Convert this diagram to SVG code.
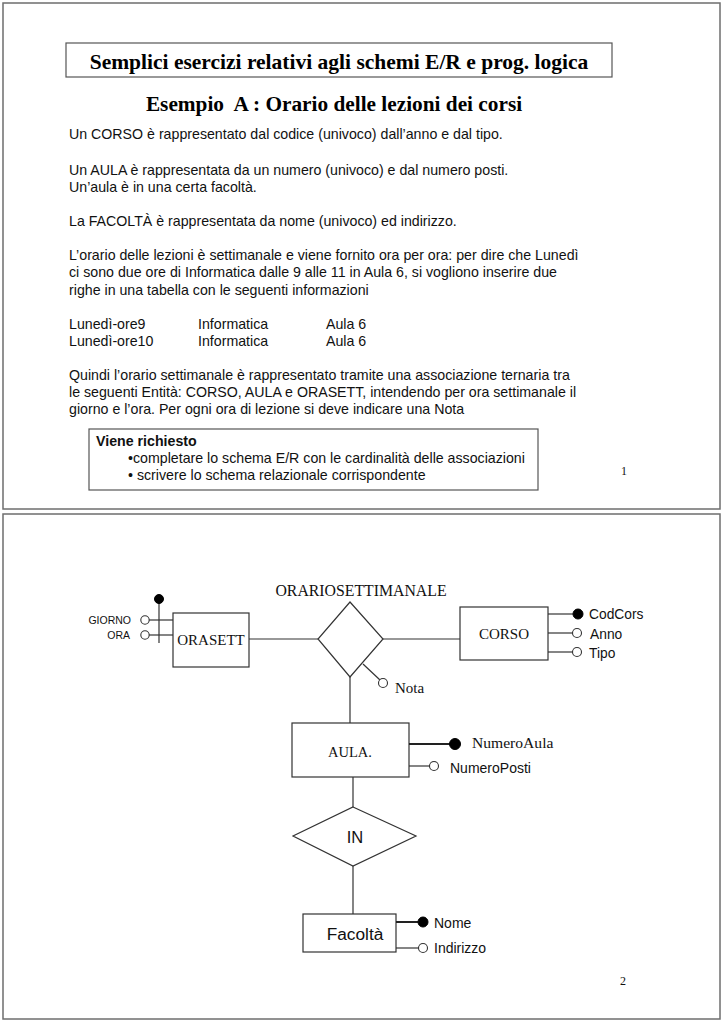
<svg xmlns="http://www.w3.org/2000/svg" width="724" height="1024" viewBox="0 0 724 1024">
<style>
.page{fill:#fff;stroke:#6e6e6e;stroke-width:1.5}
.box{fill:#fff;stroke:#333;stroke-width:1.2}
.ln{stroke:#333;stroke-width:1.2;fill:none}
.thk{stroke:#222;stroke-width:2;fill:none}
.open{fill:#fff;stroke:#333;stroke-width:1.1}
.key{fill:#000;stroke:#000;stroke-width:1}
.tb{font-family:"Liberation Serif",serif;font-weight:bold;fill:#000}
.ts{font-family:"Liberation Serif",serif;fill:#111}
.ta{font-family:"Liberation Sans",Arial,sans-serif;fill:#111}
.body{font-family:"Liberation Sans",Arial,sans-serif;font-size:14.2px;fill:#111}
</style>
<rect width="724" height="1024" fill="#fff"/>
<rect class="page" x="3" y="3" width="717" height="506"/>
<rect class="page" x="3" y="514" width="717" height="505"/>

<g id="page1">
<rect x="66" y="43" width="546" height="34" fill="#fff" stroke="#555" stroke-width="1.2"/>
<text class="tb" x="339" y="69" font-size="21.5" text-anchor="middle">Semplici esercizi relativi agli schemi E/R e prog. logica</text>
<text class="tb" x="334" y="111" font-size="21.3" text-anchor="middle" xml:space="preserve">Esempio  A : Orario delle lezioni dei corsi</text>
<text class="body" x="69" y="139">Un CORSO è rappresentato dal codice (univoco) dall’anno e dal tipo.</text>
<text class="body" x="69" y="175">Un AULA è rappresentata da un numero (univoco) e dal numero posti.</text>
<text class="body" x="69" y="192">Un’aula è in una certa facoltà.</text>
<text class="body" x="69" y="226">La FACOLTÀ è rappresentata da nome (univoco) ed indirizzo.</text>
<text class="body" x="69" y="260">L’orario delle lezioni è settimanale e viene fornito ora per ora: per dire che Lunedì</text>
<text class="body" x="69" y="277">ci sono due ore di Informatica dalle 9 alle 11 in Aula 6, si vogliono inserire due</text>
<text class="body" x="69" y="295">righe in una tabella con le seguenti informazioni</text>
<text class="body" x="69" y="329">Lunedì-ore9</text>
<text class="body" x="198" y="329">Informatica</text>
<text class="body" x="326" y="329">Aula 6</text>
<text class="body" x="69" y="346">Lunedì-ore10</text>
<text class="body" x="198" y="346">Informatica</text>
<text class="body" x="326" y="346">Aula 6</text>
<text class="body" x="69" y="380">Quindi l’orario settimanale è rappresentato tramite una associazione ternaria tra</text>
<text class="body" x="69" y="397">le seguenti Entità: CORSO, AULA e ORASETT, intendendo per ora settimanale il</text>
<text class="body" x="69" y="414">giorno e l’ora. Per ogni ora di lezione si deve indicare una Nota</text>
<rect x="89" y="429" width="449" height="61" fill="#fff" stroke="#555" stroke-width="1.2"/>
<text class="body" x="96" y="446" font-weight="bold">Viene richiesto</text>
<text class="body" x="128" y="463">•completare lo schema E/R con le cardinalità delle associazioni</text>
<text class="body" x="128" y="480">• scrivere lo schema relazionale corrispondente</text>
<text class="ts" x="621" y="475" font-size="12">1</text>
</g>

<g id="connectors">
<line class="ln" x1="249" y1="639" x2="318" y2="639"/>
<line class="ln" x1="383" y1="639" x2="460" y2="639"/>
<line class="ln" x1="350" y1="677" x2="350" y2="723"/>
<line class="ln" x1="353" y1="777" x2="353" y2="807"/>
<line class="ln" x1="353" y1="866" x2="353" y2="914"/>
</g>

<g id="orasett">
<rect class="box" x="173" y="613" width="76" height="54"/>
<text class="ts" x="211" y="645" font-size="15" text-anchor="middle">ORASETT</text>
<line class="ln" x1="149" y1="620" x2="173" y2="620"/>
<line class="ln" x1="149" y1="635" x2="173" y2="635"/>
<line class="ln" x1="159" y1="600" x2="159" y2="643"/>
<circle class="key" cx="159" cy="599" r="4.5"/>
<circle class="open" cx="145" cy="620" r="4.2"/>
<circle class="open" cx="145" cy="635" r="4.2"/>
<text class="ta" x="131" y="623.5" font-size="10.5" text-anchor="end">GIORNO</text>
<text class="ta" x="130" y="638.5" font-size="10.5" text-anchor="end">ORA</text>
</g>

<g id="orariosettimanale">
<polygon class="box" points="350,602 383,639 350,677 318,639"/>
<text class="ts" x="361" y="596" font-size="15.8" text-anchor="middle">ORARIOSETTIMANALE</text>
<line class="ln" x1="363" y1="664" x2="380" y2="680"/>
<circle class="open" cx="383" cy="683" r="4.5"/>
<text class="ts" x="395" y="693" font-size="15">Nota</text>
</g>

<g id="corso">
<rect class="box" x="460" y="607" width="88" height="53"/>
<text class="ts" x="504" y="639" font-size="15" text-anchor="middle">CORSO</text>
<line class="ln" x1="548" y1="614" x2="573" y2="614"/>
<line class="ln" x1="548" y1="633" x2="573" y2="633"/>
<line class="ln" x1="548" y1="652" x2="573" y2="652"/>
<circle class="key" cx="578" cy="614" r="5"/>
<circle class="open" cx="577" cy="633" r="4.5"/>
<circle class="open" cx="577" cy="652" r="4.5"/>
<text class="ta" x="589" y="619" font-size="13.8">CodCors</text>
<text class="ta" x="590" y="639" font-size="13.8">Anno</text>
<text class="ta" x="589" y="658" font-size="13.8">Tipo</text>
</g>

<g id="aula">
<rect class="box" x="292" y="723" width="117" height="54"/>
<text class="ts" x="350" y="757" font-size="14.5" text-anchor="middle">AULA.</text>
<line class="thk" x1="409" y1="744" x2="450" y2="744"/>
<circle class="key" cx="455" cy="744" r="5.5"/>
<line class="ln" x1="409" y1="766" x2="430" y2="766"/>
<circle class="open" cx="434" cy="766" r="4.5"/>
<text class="ts" x="472" y="748" font-size="15.6">NumeroAula</text>
<text class="ta" x="450" y="773" font-size="14">NumeroPosti</text>
</g>

<g id="in">
<polygon class="box" points="353,807 416,836 353,866 293,836"/>
<text class="ta" x="355" y="843" font-size="16.5" text-anchor="middle">IN</text>
</g>

<g id="facolta">
<rect class="box" x="303" y="914" width="93" height="38"/>
<text class="ta" x="355" y="940" font-size="17.3" text-anchor="middle">Facoltà</text>
<line class="thk" x1="396" y1="922" x2="418" y2="922"/>
<circle class="key" cx="423" cy="922" r="5"/>
<line class="ln" x1="396" y1="948" x2="419" y2="948"/>
<circle class="open" cx="423" cy="948" r="4.5"/>
<text class="ta" x="434" y="928" font-size="14">Nome</text>
<text class="ta" x="434" y="953" font-size="14">Indirizzo</text>
</g>
<text class="ts" x="620" y="985" font-size="12">2</text>
</svg>
